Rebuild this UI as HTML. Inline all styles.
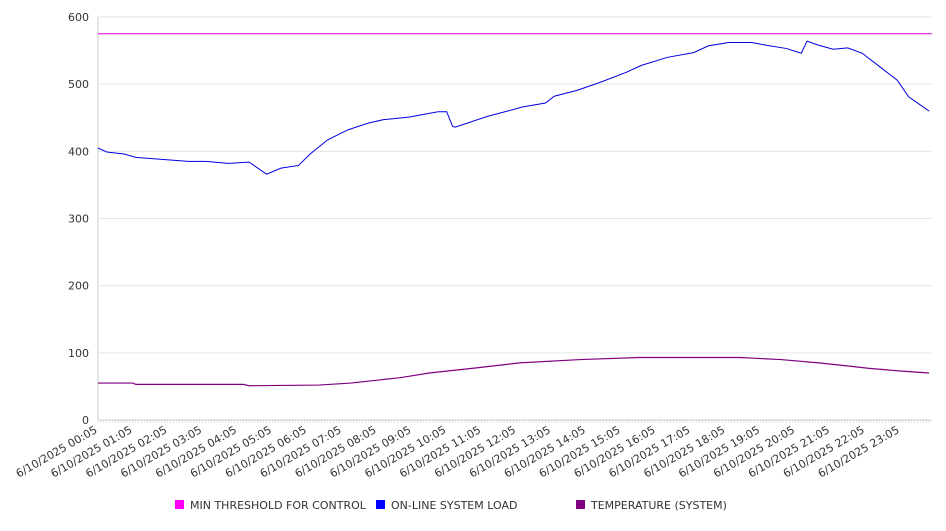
<!DOCTYPE html>
<html><head><meta charset="utf-8"><style>
body{margin:0;background:#fff;width:946px;height:526px;overflow:hidden}
svg{font-family:"DejaVu Sans","Liberation Sans",sans-serif}
</style></head><body>
<svg id="chart" width="946" height="526"></svg>
<script>
// data: index = 5-minute steps from 6/10/2025 00:05
const loadIdx=[0,3,9,13,22,31,37,45,52,58,63,69,73,79,86,93,98,107,117,120,122,123,134,141,146,154,157,165,173,182,187,196,205,210,217,225,230,237,242,244,248,253,258,263,269,275,279,286];
const loadVal=[405,399,396,391,388,385,385,382,384,366,375,379,396,417,432,442,447,451,459,459,437,436,452,460,466,472,482,491,503,518,528,540,547,557,562,562,558,553,546,564,558,552,554,546,526,506,481,460];
const tempIdx=[0,12,13,50,52,76,87,104,114,131,145,166,186,221,235,248,259,265,276,286];
const tempVal=[55,55,53,53,51,52,55,63,70,78,85,90,93,93,90,85,80,77,73,70];
const thresholdVal=575;
const yTicks=[0,100,200,300,400,500,600];
const xLabels=["00:05","01:05","02:05","03:05","04:05","05:05","06:05","07:05","08:05","09:05","10:05","11:05","12:05","13:05","14:05","15:05","16:05","17:05","18:05","19:05","20:05","21:05","22:05","23:05"];
const nSteps=287;
const X0=98,X1=932,Y0=420,Y1=17;
const x=i=>X0+i*(X1-X0)/nSteps;
const y=v=>Y0-v*(Y0-Y1)/600;
const svg=document.getElementById('chart');
const NS='http://www.w3.org/2000/svg';
function mk(t,a,p){const e=document.createElementNS(NS,t);for(const k in a)e.setAttribute(k,a[k]);(p||svg).appendChild(e);return e;}
yTicks.forEach(v=>{
  const g=mk('line',{x1:X0,x2:X1,y1:y(v),y2:y(v),stroke:'#e6e6e6','stroke-width':1});
  
  
  const t=mk('text',{x:89,y:y(v)+4,'text-anchor':'end','font-size':11,fill:'#333'});
  t.textContent=v;
  
  
});
const ax=mk('line',{x1:X0,x2:X0,y1:Y1,y2:Y0,stroke:'#ccc'});


const bx=mk('line',{x1:X0,x2:X1,y1:Y0,y2:Y0,stroke:'#ccc'});


for(let i=0;i<nSteps;i++){const m=mk('line',{x1:x(i),x2:x(i),y1:Y0,y2:Y0+3,stroke:'#ccc','stroke-width':0.6});

}
xLabels.forEach((l,k)=>{
  const px=x(k*12);
  const t=mk('text',{x:px,y:Y0+12,'text-anchor':'end','font-size':11,fill:'#333',transform:`rotate(-30 ${px} ${Y0+12})`});
  t.textContent='6/10/2025 '+l;
  
  
});
const th=mk('line',{x1:X0,x2:X1,y1:y(thresholdVal),y2:y(thresholdVal),stroke:'#e000e0','stroke-width':1});


const lp=mk('polyline',{points:loadIdx.map((i,k)=>x(i)+','+y(loadVal[k])).join(' '),fill:'none',stroke:'#0000e0','stroke-width':1});


const tp=mk('polyline',{points:tempIdx.map((i,k)=>x(i)+','+y(tempVal[k])).join(' '),fill:'none',stroke:'#800080','stroke-width':1.2});


const legend=[["MIN THRESHOLD FOR CONTROL","#ff00ff",175],["ON-LINE SYSTEM LOAD","#0000ff",376],["TEMPERATURE (SYSTEM)","#800080",576]];
legend.forEach(([n,c,lx])=>{
  const r=mk('rect',{x:lx,y:500,width:9,height:9,fill:c});
  
  
  const t=mk('text',{x:lx+15,y:509,'font-size':11,fill:'#333'});
  t.textContent=n;
  
  
});
</script>
</body></html>
